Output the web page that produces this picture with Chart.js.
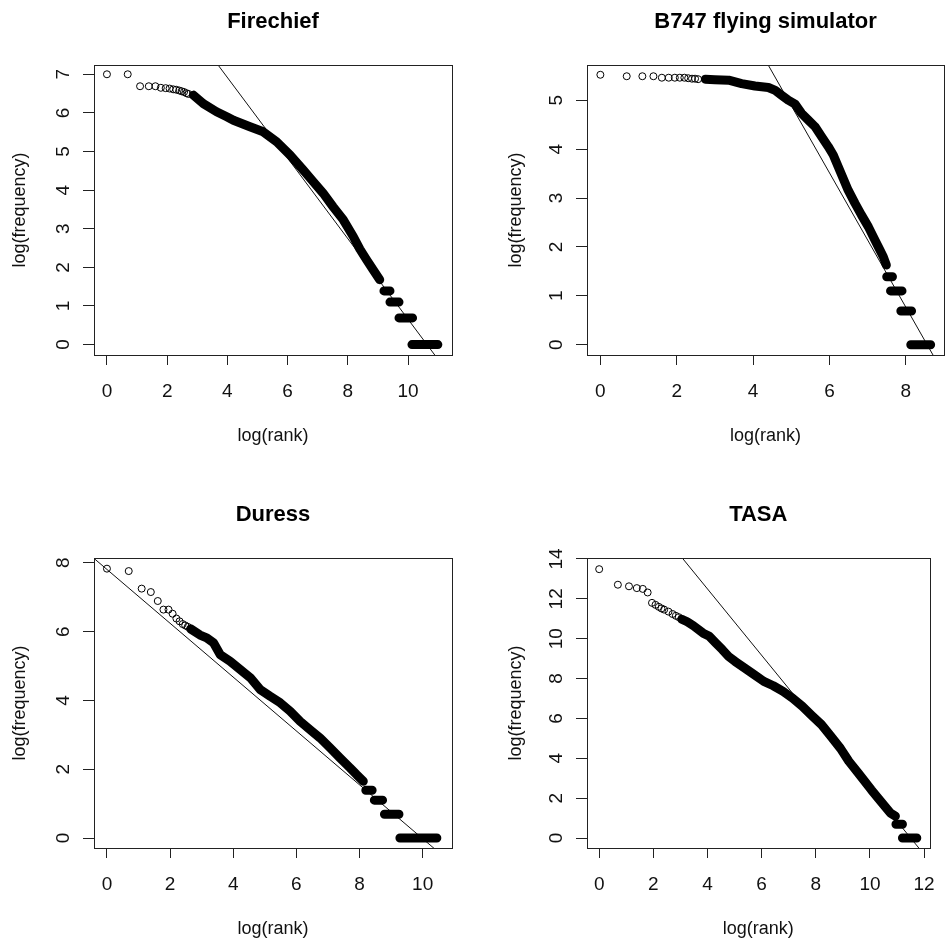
<!DOCTYPE html>
<html>
<head>
<meta charset="utf-8">
<title>rank / frequency</title>
<script src="https://cdn.jsdelivr.net/npm/chart.js@4.4.1/dist/chart.umd.min.js"></script>
<style>
  html, body { margin: 0; padding: 0; background: #fff; overflow: hidden; }
  #wrap { position: relative; width: 950px; height: 945px; }
  canvas { position: absolute; }
</style>
</head>
<body>
<div id="wrap">
  <canvas id="fire" width="475" height="460" style="left:0;top:0"></canvas>
  <canvas id="b747" width="475" height="460" style="left:475px;top:0"></canvas>
  <canvas id="duress" width="475" height="460" style="left:0;top:493px"></canvas>
  <canvas id="tasa" width="475" height="460" style="left:475px;top:493px"></canvas>
</div>
<script>
// --- Firechief ---
const fireHeadX = [0, 0.69, 1.10, 1.39, 1.61, 1.79, 1.95, 2.08, 2.20, 2.30, 2.40, 2.48, 2.56, 2.64, 2.71];
const fireHeadY = [7.0, 7.0, 6.69, 6.69, 6.69, 6.65, 6.64, 6.63, 6.61, 6.60, 6.58, 6.56, 6.54, 6.51, 6.49];
const fireBandX = [2.87, 3.2, 3.64, 3.98, 4.2, 4.75, 5.19, 5.64, 6.08, 6.52, 6.85, 7.18, 7.51, 7.85, 8.18, 8.4, 8.62, 8.84, 9.06];
const fireBandY = [6.46, 6.24, 6.03, 5.9, 5.81, 5.64, 5.51, 5.25, 4.91, 4.52, 4.22, 3.92, 3.57, 3.23, 2.80, 2.47, 2.20, 1.94, 1.68];
const firePlatY = [1.39, 1.10, 0.69, 0];
const firePlatFrom = [9.2, 9.4, 9.7, 10.13];
const firePlatTo = [9.4, 9.7, 10.15, 10.99];
const fireFitX = [0, 12];
const fireFitY = [11.09, -1.43];
const fireXTicks = [0, 2, 4, 6, 8, 10];
const fireYTicks = [0, 1, 2, 3, 4, 5, 6, 7];

// --- B747 flying simulator ---
const b747HeadX = [0, 0.69, 1.10, 1.39, 1.61, 1.79, 1.95, 2.08, 2.20, 2.30, 2.40, 2.48, 2.56];
const b747HeadY = [5.52, 5.49, 5.49, 5.49, 5.46, 5.46, 5.46, 5.46, 5.46, 5.45, 5.44, 5.44, 5.43];
const b747BandX = [2.75, 3.0, 3.36, 3.7, 4.05, 4.4, 4.58, 4.75, 4.92, 5.1, 5.27, 5.45, 5.62, 5.8, 5.97, 6.1, 6.23, 6.36, 6.49, 6.67, 6.84, 7.02, 7.19, 7.32, 7.41, 7.49];
const b747BandY = [5.43, 5.42, 5.41, 5.34, 5.29, 5.26, 5.2, 5.1, 5.0, 4.92, 4.73, 4.59, 4.46, 4.25, 4.05, 3.88, 3.64, 3.4, 3.16, 2.89, 2.65, 2.41, 2.14, 1.94, 1.8, 1.63];
const b747PlatY = [1.39, 1.10, 0.69, 0];
const b747PlatFrom = [7.5, 7.6, 7.87, 8.13];
const b747PlatTo = [7.65, 7.9, 8.15, 8.65];
const b747FitX = [0, 10];
const b747FitY = [11.76, -1.98];
const b747XTicks = [0, 2, 4, 6, 8];
const b747YTicks = [0, 1, 2, 3, 4, 5];

// --- Duress ---
const duressHeadX = [0, 0.69, 1.10, 1.39, 1.61, 1.79, 1.95, 2.08, 2.20, 2.30, 2.40, 2.48, 2.56];
const duressHeadY = [7.83, 7.76, 7.25, 7.15, 6.89, 6.64, 6.64, 6.52, 6.38, 6.30, 6.22, 6.18, 6.14];
const duressBandX = [2.65, 2.95, 3.16, 3.38, 3.59, 3.9, 4.22, 4.54, 4.85, 5.17, 5.49, 5.8, 6.12, 6.43, 6.75, 7.07, 7.38, 7.7, 7.91, 8.12];
const duressBandY = [6.08, 5.9, 5.82, 5.67, 5.33, 5.14, 4.9, 4.66, 4.32, 4.12, 3.93, 3.69, 3.39, 3.15, 2.91, 2.62, 2.33, 2.04, 1.84, 1.65];
const duressPlatY = [1.39, 1.10, 0.69, 0];
const duressPlatFrom = [8.2, 8.47, 8.79, 9.28];
const duressPlatTo = [8.4, 8.73, 9.25, 10.45];
const duressFitX = [-1, 11];
const duressFitY = [8.59, -0.80];
const duressXTicks = [0, 2, 4, 6, 8, 10];
const duressYTicks = [0, 2, 4, 6, 8];

// --- TASA ---
const tasaHeadX = [0, 0.69, 1.10, 1.39, 1.61, 1.79, 1.95, 2.08, 2.20, 2.30, 2.40, 2.56, 2.71, 2.83, 2.94];
const tasaHeadY = [13.49, 12.71, 12.63, 12.54, 12.50, 12.32, 11.80, 11.70, 11.60, 11.52, 11.46, 11.36, 11.24, 11.15, 11.08];
const tasaBandX = [3.05, 3.25, 3.48, 3.84, 4.07, 4.31, 4.55, 4.78, 5.02, 5.37, 5.73, 6.08, 6.43, 6.79, 7.14, 7.5, 7.85, 8.21, 8.56, 8.91, 9.22, 9.57, 10.05, 10.4, 10.76, 10.94];
const tasaBandY = [10.98, 10.85, 10.65, 10.28, 10.12, 9.78, 9.45, 9.11, 8.86, 8.53, 8.19, 7.86, 7.64, 7.36, 7.02, 6.61, 6.15, 5.69, 5.1, 4.5, 3.85, 3.26, 2.42, 1.84, 1.25, 1.1];
const tasaPlatY = [0.69, 0];
const tasaPlatFrom = [10.96, 11.2];
const tasaPlatTo = [11.2, 11.73];
const tasaFitX = [0, 13];
const tasaFitY = [19.16, -2.49];
const tasaXTicks = [0, 2, 4, 6, 8, 10, 12];
const tasaYTicks = [0, 2, 4, 6, 8, 10, 12, 14];

const FONT = '"Liberation Sans", Arial, Helvetica, sans-serif';
Chart.defaults.font.family = FONT;
Chart.defaults.color = '#111';

// box + rotated y labels the way R draws them
const rFrame = {
  id: 'rFrame',
  afterDraw(chart) {
    const { ctx, chartArea: a, scales: { y } } = chart;
    ctx.save();
    ctx.strokeStyle = '#222';
    ctx.lineWidth = 1;
    ctx.strokeRect(Math.round(a.left) + 0.5, Math.round(a.top) + 0.5, Math.round(a.right - a.left), Math.round(a.bottom - a.top));
    ctx.fillStyle = '#111';
    ctx.font = '19px ' + FONT;
    ctx.textAlign = 'center';
    ctx.textBaseline = 'middle';
    y.ticks.forEach(t => {
      ctx.save();
      ctx.translate(a.left - 30.5, y.getPixelForValue(t.value));
      ctx.rotate(-Math.PI / 2);
      ctx.fillText(t.label, 0, 0);
      ctx.restore();
    });
    ctx.restore();
  }
};

function pts(xs, ys) { return xs.map((x, i) => ({ x, y: ys[i] })); }

function panel(id, title, d, o) {
  const plat = [];
  d.platY.forEach((y, i) => {
    plat.push({ x: d.platFrom[i], y }, { x: d.platTo[i], y }, { x: d.platTo[i], y: null });
  });
  new Chart(document.getElementById(id), {
    type: 'scatter',
    data: {
      datasets: [
        { data: pts(d.headX, d.headY), pointStyle: 'circle', pointRadius: 3.5, pointBorderWidth: 1,
          borderColor: '#000', backgroundColor: 'rgba(0,0,0,0)' },
        { data: pts(d.bandX, d.bandY), showLine: true, borderWidth: 9, borderColor: '#000',
          borderJoinStyle: 'round', borderCapStyle: 'round', pointRadius: 0 },
        { data: plat, showLine: true, spanGaps: false, borderWidth: 9, borderColor: '#000',
          borderCapStyle: 'round', pointRadius: 0 },
        { data: pts(d.fitX, d.fitY), showLine: true, borderWidth: 1, borderColor: '#111',
          pointRadius: 0, clip: 0 }
      ]
    },
    options: {
      responsive: false,
      animation: false,
      events: [],
      layout: { padding: { left: 0, right: o.padRight, top: 0, bottom: 0 } },
      plugins: {
        legend: { display: false },
        tooltip: { enabled: false },
        title: {
          display: true, text: title, fullSize: false, color: '#000',
          font: { size: 22, weight: 'bold' }, padding: { top: 9, bottom: 29.6 }
        }
      },
      scales: {
        x: {
          type: 'linear', min: o.xMin, max: o.xMax,
          afterBuildTicks: s => { s.ticks = d.xTicks.map(v => ({ value: v })); },
          afterFit: s => { s.height = 105; },
          border: { display: false },
          grid: { drawOnChartArea: false, drawTicks: true, tickLength: 10, color: '#222' },
          ticks: { autoSkip: false, maxRotation: 0, padding: 15, font: { size: 19 }, color: '#111' },
          title: { display: true, text: 'log(rank)', font: { size: 18 }, color: '#111', padding: { top: 0, bottom: 13 } }
        },
        y: {
          type: 'linear', min: o.yMin, max: o.yMax,
          afterBuildTicks: s => { s.ticks = d.yTicks.map(v => ({ value: v })); },
          afterFit: s => { s.width = o.boxLeft; },
          border: { display: false },
          grid: { drawOnChartArea: false, drawTicks: true, tickLength: 11, color: '#222' },
          ticks: { display: false },
          title: { display: true, text: 'log(frequency)', font: { size: 18 }, color: '#111', padding: { top: o.yTitlePad, bottom: 0 } }
        }
      }
    },
    plugins: [rFrame]
  });
}

panel('fire', 'Firechief',
  { headX: fireHeadX, headY: fireHeadY, bandX: fireBandX, bandY: fireBandY, platY: firePlatY,
    platFrom: firePlatFrom, platTo: firePlatTo, fitX: fireFitX, fitY: fireFitY, xTicks: fireXTicks, yTicks: fireYTicks },
  { xMin: -0.43, xMax: 11.46, yMin: -0.27, yMax: 7.24, boxLeft: 94, padRight: 23, yTitlePad: 9 });

panel('b747', 'B747 flying simulator',
  { headX: b747HeadX, headY: b747HeadY, bandX: b747BandX, bandY: b747BandY, platY: b747PlatY,
    platFrom: b747PlatFrom, platTo: b747PlatTo, fitX: b747FitX, fitY: b747FitY, xTicks: b747XTicks, yTicks: b747YTicks },
  { xMin: -0.35, xMax: 9.0, yMin: -0.21, yMax: 5.72, boxLeft: 112, padRight: 6, yTitlePad: 30 });

panel('duress', 'Duress',
  { headX: duressHeadX, headY: duressHeadY, bandX: duressBandX, bandY: duressBandY, platY: duressPlatY,
    platFrom: duressPlatFrom, platTo: duressPlatTo, fitX: duressFitX, fitY: duressFitY, xTicks: duressXTicks, yTicks: duressYTicks },
  { xMin: -0.41, xMax: 10.93, yMin: -0.29, yMax: 8.14, boxLeft: 94, padRight: 23, yTitlePad: 9 });

panel('tasa', 'TASA',
  { headX: tasaHeadX, headY: tasaHeadY, bandX: tasaBandX, bandY: tasaBandY, platY: tasaPlatY,
    platFrom: tasaPlatFrom, platTo: tasaPlatTo, fitX: tasaFitX, fitY: tasaFitY, xTicks: tasaXTicks, yTicks: tasaYTicks },
  { xMin: -0.45, xMax: 12.2, yMin: -0.5, yMax: 14.05, boxLeft: 112, padRight: 6, yTitlePad: 30 });
</script>
</body>
</html>
